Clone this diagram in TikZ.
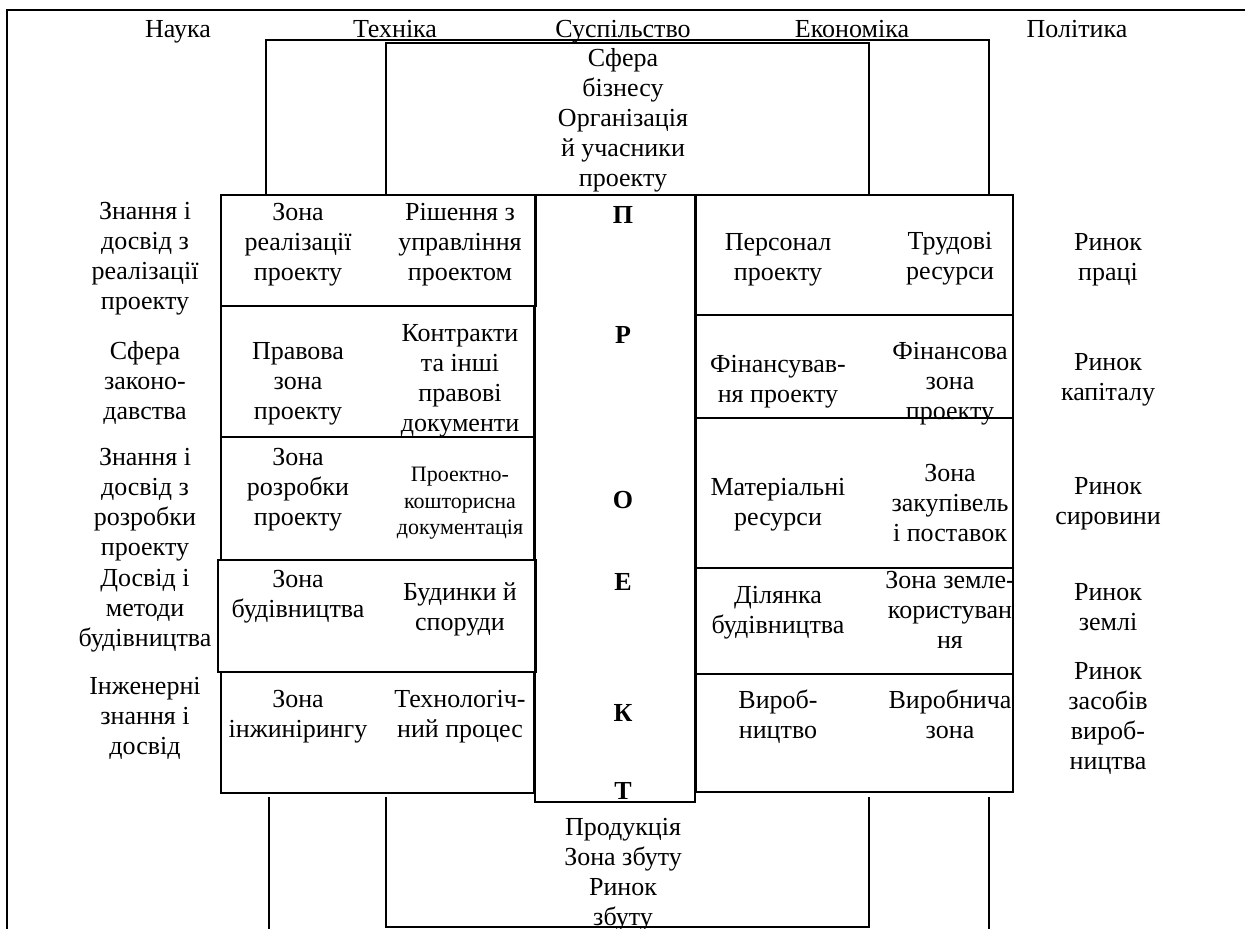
\documentclass[tikz,border=0pt]{standalone}
\usepackage{fontspec}
\setmainfont{Liberation Serif}
\newcommand\myfs{\fontsize{19.5}{22.5}\selectfont}
\newcommand\myfss{\fontsize{16.5}{20}\selectfont}
\begin{document}
\begin{tikzpicture}[x=0.75pt,y=-0.75pt,
  frame/.style={line width=2.2pt},
  boxline/.style={line width=1.7pt},
  thinline/.style={line width=1.5pt},
  lbl/.style={align=center,inner sep=0pt,font=\myfs,yshift=-3pt,
    execute at begin node=\strut,execute at end node=\strut},
  slbl/.style={align=center,inner sep=0pt,font=\myfss,yshift=-3pt,
    execute at begin node=\strut,execute at end node=\strut},
  letter/.style={inner sep=0pt,font=\myfs\bfseries}]
\useasboundingbox (0,0) rectangle (1245,928);
\fill[white] (0,0) rectangle (1245,928);
% outer frame
\draw[frame] (7,930) -- (7,10) -- (1247,10);
% upper U shapes
\draw[thinline] (266,195) -- (266,40) -- (989,40) -- (989,195);
\draw[thinline] (386,195) -- (386,43) -- (869,43) -- (869,195);
% lower U shapes
\draw[thinline] (269,797) -- (269,932);
\draw[thinline] (989,797) -- (989,932);
\draw[thinline] (386,797) -- (386,927) -- (869,927) -- (869,797);
% left rows
\draw[boxline] (221,195) rectangle (536,306);
\draw[boxline] (221,306) rectangle (534,437);
\draw[boxline] (221,437) rectangle (534,560);
\draw[boxline] (218,560) rectangle (536,672);
\draw[boxline] (221,672) rectangle (534,793);
% centre column
\draw[boxline] (535,195) rectangle (695,802);
% right rows
\draw[boxline] (696,195) rectangle (1013,315);
\draw[boxline] (696,315) rectangle (1013,418);
\draw[boxline] (696,418) rectangle (1013,568);
\draw[boxline] (696,568) rectangle (1013,674);
\draw[boxline] (696,674) rectangle (1013,792);
% headers
\node[lbl] (nauka) at (178,27) {Наука};
\node[lbl] (tekh) at (395,27) {Техніка};
\node[lbl] (susp) at (623,27) {Суспільство};
\node[lbl] (ekon) at (852,27) {Економіка};
\node[lbl] (polit) at (1077,27) {Політика};
% top centre
\node[lbl] (biz) at (623,118) {Сфера\\бізнесу\\Організація\\й учасники\\проекту};
% left labels
\node[lbl] (l1) at (145,256) {Знання і\\досвід з\\реалізації\\проекту};
\node[lbl] (l2) at (145,381) {Сфера\\законо-\\давства};
\node[lbl] (l3) at (145,502) {Знання і\\досвід з\\розробки\\проекту};
\node[lbl] (l4) at (145,608) {Досвід і\\методи\\будівництва};
\node[lbl] (l5) at (145,716) {Інженерні\\знання і\\досвід};
% column A
\node[lbl] (a1) at (298,242) {Зона\\реалізації\\проекту};
\node[lbl] (a2) at (298,381) {Правова\\зона\\проекту};
\node[lbl] (a3) at (298,487) {Зона\\розробки\\проекту};
\node[lbl] (a4) at (298,594) {Зона\\будівництва};
\node[lbl] (a5) at (298,714) {Зона\\інжинірингу};
% column B
\node[lbl] (b1) at (460,242) {Рішення з\\управління\\проектом};
\node[lbl] (b2) at (460,378) {Контракти\\та інші\\правові\\документи};
\node[slbl] (b3) at (460,501) {Проектно-\\кошторисна\\документація};
\node[lbl] (b4) at (460,607) {Будинки й\\споруди};
\node[lbl] (b5) at (460,714) {Технологіч-\\ний процес};
% centre letters
\node[letter] (p1) at (623,215) {П};
\node[letter] (p2) at (623,335) {Р};
\node[letter] (p3) at (623,500) {О};
\node[letter] (p4) at (623,582) {Е};
\node[letter] (p5) at (623,713) {К};
\node[letter] (p6) at (623,791) {Т};
% column C
\node[lbl] (c1) at (778,257) {Персонал\\проекту};
\node[lbl] (c2) at (778,379) {Фінансував-\\ня проекту};
\node[lbl] (c3) at (778,502) {Матеріальні\\ресурси};
\node[lbl] (c4) at (778,610) {Ділянка\\будівництва};
\node[lbl] (c5) at (778,715) {Вироб-\\ництво};
% column D
\node[lbl] (d1) at (950,256) {Трудові\\ресурси};
\node[lbl] (d2) at (950,381) {Фінансова\\зона\\проекту};
\node[lbl] (d3) at (950,503) {Зона\\закупівель\\і поставок};
\node[lbl] (d4) at (950,610) {Зона земле-\\користуван\\ня};
\node[lbl] (d5) at (950,715) {Виробнича\\зона};
% column E
\node[lbl] (e1) at (1108,257) {Ринок\\праці};
\node[lbl] (e2) at (1108,377) {Ринок\\капіталу};
\node[lbl] (e3) at (1108,501) {Ринок\\сировини};
\node[lbl] (e4) at (1108,607) {Ринок\\землі};
\node[lbl] (e5) at (1108,716) {Ринок\\засобів\\вироб-\\ництва};
% bottom
\node[lbl] (prod) at (623,872) {Продукція\\Зона збуту\\Ринок\\збуту};
\end{tikzpicture}
\end{document}
